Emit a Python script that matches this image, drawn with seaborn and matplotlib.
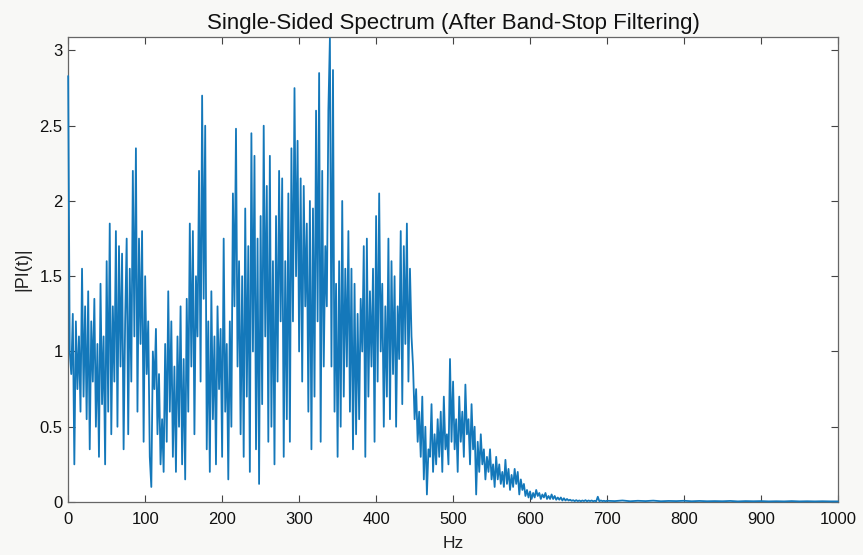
import numpy as np
import pandas as pd
import matplotlib
matplotlib.use('Agg')
import matplotlib.pyplot as plt
import seaborn as sns

# spectrum magnitudes, 2 Hz apart, one list per 100 Hz
amp_000 = [2.83, 1.0, 0.85, 1.25, 0.25, 1.2, 0.75, 1.1, 0.6, 1.55,
           0.7, 1.3, 0.55, 1.4, 0.35, 1.2, 0.8, 1.35, 0.5, 1.05,
           0.3, 1.45, 0.65, 1.1, 0.25, 1.6, 0.6, 1.85, 0.45, 1.3,
           0.8, 1.8, 0.5, 1.7, 0.9, 1.65, 0.35, 1.2, 1.75, 0.45,
           1.55, 0.8, 2.2, 1.1, 2.35, 0.6, 1.75, 1.05, 1.8, 0.4]
amp_100 = [1.5, 0.85, 1.2, 0.3, 0.1, 1.0, 0.75, 1.15, 0.45, 0.85,
           0.25, 0.55, 0.2, 1.05, 0.4, 1.4, 0.6, 1.2, 0.3, 0.9,
           0.2, 1.1, 0.5, 1.3, 0.25, 0.95, 0.15, 1.35, 0.6, 1.85,
           0.9, 1.8, 0.45, 1.5, 1.1, 2.2, 0.8, 2.7, 1.35, 2.5,
           0.35, 1.2, 0.2, 1.4, 0.55, 1.1, 0.25, 1.3, 0.75, 1.15]
amp_200 = [0.3, 1.75, 0.6, 1.05, 0.15, 1.2, 0.5, 2.05, 1.3, 2.48,
           0.9, 1.6, 0.45, 1.5, 0.3, 1.95, 0.7, 1.7, 0.2, 2.45,
           1.0, 2.3, 0.35, 1.75, 0.12, 1.9, 0.65, 2.5, 1.1, 2.1,
           0.4, 2.3, 0.5, 1.6, 0.25, 1.9, 0.8, 2.2, 1.2, 2.15,
           0.3, 1.6, 0.55, 2.05, 0.4, 2.35, 1.2, 2.75, 1.5, 2.4]
amp_300 = [1.0, 2.15, 0.8, 2.1, 1.3, 1.85, 0.6, 2.0, 0.35, 1.95,
           0.7, 2.6, 1.2, 2.85, 0.4, 2.2, 0.9, 1.7, 1.3, 2.6,
           3.08, 0.9, 2.87, 0.6, 1.45, 0.3, 1.6, 0.5, 2.0, 0.7,
           1.55, 0.9, 1.8, 0.6, 1.55, 0.35, 1.45, 0.45, 1.25, 0.55,
           1.35, 1.0, 1.7, 0.3, 1.75, 0.7, 1.4, 0.9, 1.55, 0.4]
amp_400 = [1.9, 0.8, 2.05, 1.0, 1.45, 0.5, 1.3, 0.7, 1.75, 0.55,
           1.6, 0.85, 1.5, 0.5, 1.3, 0.95, 1.8, 0.65, 1.7, 1.05,
           1.85, 0.8, 1.55, 1.1, 0.9, 0.55, 0.75, 0.4, 0.6, 0.3,
           0.7, 0.15, 0.5, 0.05, 0.35, 0.3, 0.65, 0.2, 0.45, 0.25,
           0.55, 0.3, 0.6, 0.2, 0.7, 0.35, 0.45, 0.25, 0.95, 0.4]
amp_500 = [0.8, 0.35, 0.55, 0.2, 0.7, 0.4, 0.6, 0.3, 0.78, 0.45,
           0.55, 0.25, 0.65, 0.35, 0.5, 0.05, 0.4, 0.2, 0.45, 0.25,
           0.35, 0.15, 0.3, 0.2, 0.35, 0.15, 0.25, 0.1, 0.3, 0.15,
           0.25, 0.12, 0.2, 0.1, 0.28, 0.12, 0.22, 0.08, 0.18, 0.1,
           0.22, 0.12, 0.2, 0.05, 0.15, 0.08, 0.12, 0.04, 0.08, 0.03]
amp_600 = [0.07, 0.02, 0.06, 0.03, 0.08, 0.04, 0.06, 0.02, 0.05, 0.03,
           0.06, 0.02, 0.04, 0.02, 0.05, 0.02, 0.04, 0.015, 0.03, 0.015,
           0.03, 0.01, 0.025, 0.01, 0.02, 0.01, 0.015, 0.008, 0.012, 0.006,
           0.012, 0.006, 0.01, 0.005, 0.01, 0.006, 0.012, 0.005, 0.01, 0.006,
           0.01, 0.005, 0.008, 0.005, 0.035, 0.005, 0.01, 0.006, 0.008, 0.005]
# 700-1000 Hz, 10 Hz apart
amp_tail = [0.008, 0.006, 0.01, 0.005, 0.008, 0.006, 0.009, 0.005, 0.007, 0.006,
            0.008, 0.005, 0.007, 0.005, 0.006, 0.005, 0.007, 0.004, 0.006, 0.005,
            0.006, 0.004, 0.005, 0.004, 0.006, 0.004, 0.005, 0.004, 0.005, 0.004,
            0.004]

amp_low = amp_000 + amp_100 + amp_200 + amp_300 + amp_400 + amp_500 + amp_600
freq = list(np.arange(0, 700, 2)) + list(np.arange(700, 1001, 10))
spec = pd.DataFrame({'Hz': freq, 'amp': amp_low + amp_tail})

sns.set_theme(style='white')
plt.rcParams['font.family'] = ['Liberation Sans', 'DejaVu Sans']

fig = plt.figure(figsize=(8.63, 5.55), dpi=100, facecolor='#f8f8f6')
ax = fig.add_axes([0.079, 0.0955, 0.892, 0.838])
sns.lineplot(data=spec, x='Hz', y='amp', ax=ax, color='#1478ba',
             linewidth=1.3, estimator=None, zorder=3, clip_on=False)

ax.set_xlim(0, 1000)
ax.set_ylim(0, 3.09)
ax.set_xticks(range(0, 1001, 100))
ax.set_yticks([0, 0.5, 1, 1.5, 2, 2.5, 3])
ax.set_yticklabels(['0', '0.5', '1', '1.5', '2', '2.5', '3'])
ax.tick_params(direction='in', length=5, width=0.8, colors='#444444',
               labelcolor='#111111', labelsize=12, top=True, right=True,
               bottom=True, left=True)
ax.tick_params(axis='x', pad=7)
ax.tick_params(axis='y', pad=4)
for sp in ax.spines.values():
    sp.set_visible(True)
    sp.set_color('#666666')
    sp.set_linewidth(0.9)

ax.set_xlabel('Hz', fontsize=12.5, color='#222222', labelpad=7)
ax.set_ylabel('|PI(t)|', fontsize=13, color='#222222', labelpad=6)
ax.set_title('Single-Sided Spectrum (After Band-Stop Filtering)',
             fontsize=16, color='#111111', pad=6)

fig.savefig('out.png', dpi=100, facecolor=fig.get_facecolor())
